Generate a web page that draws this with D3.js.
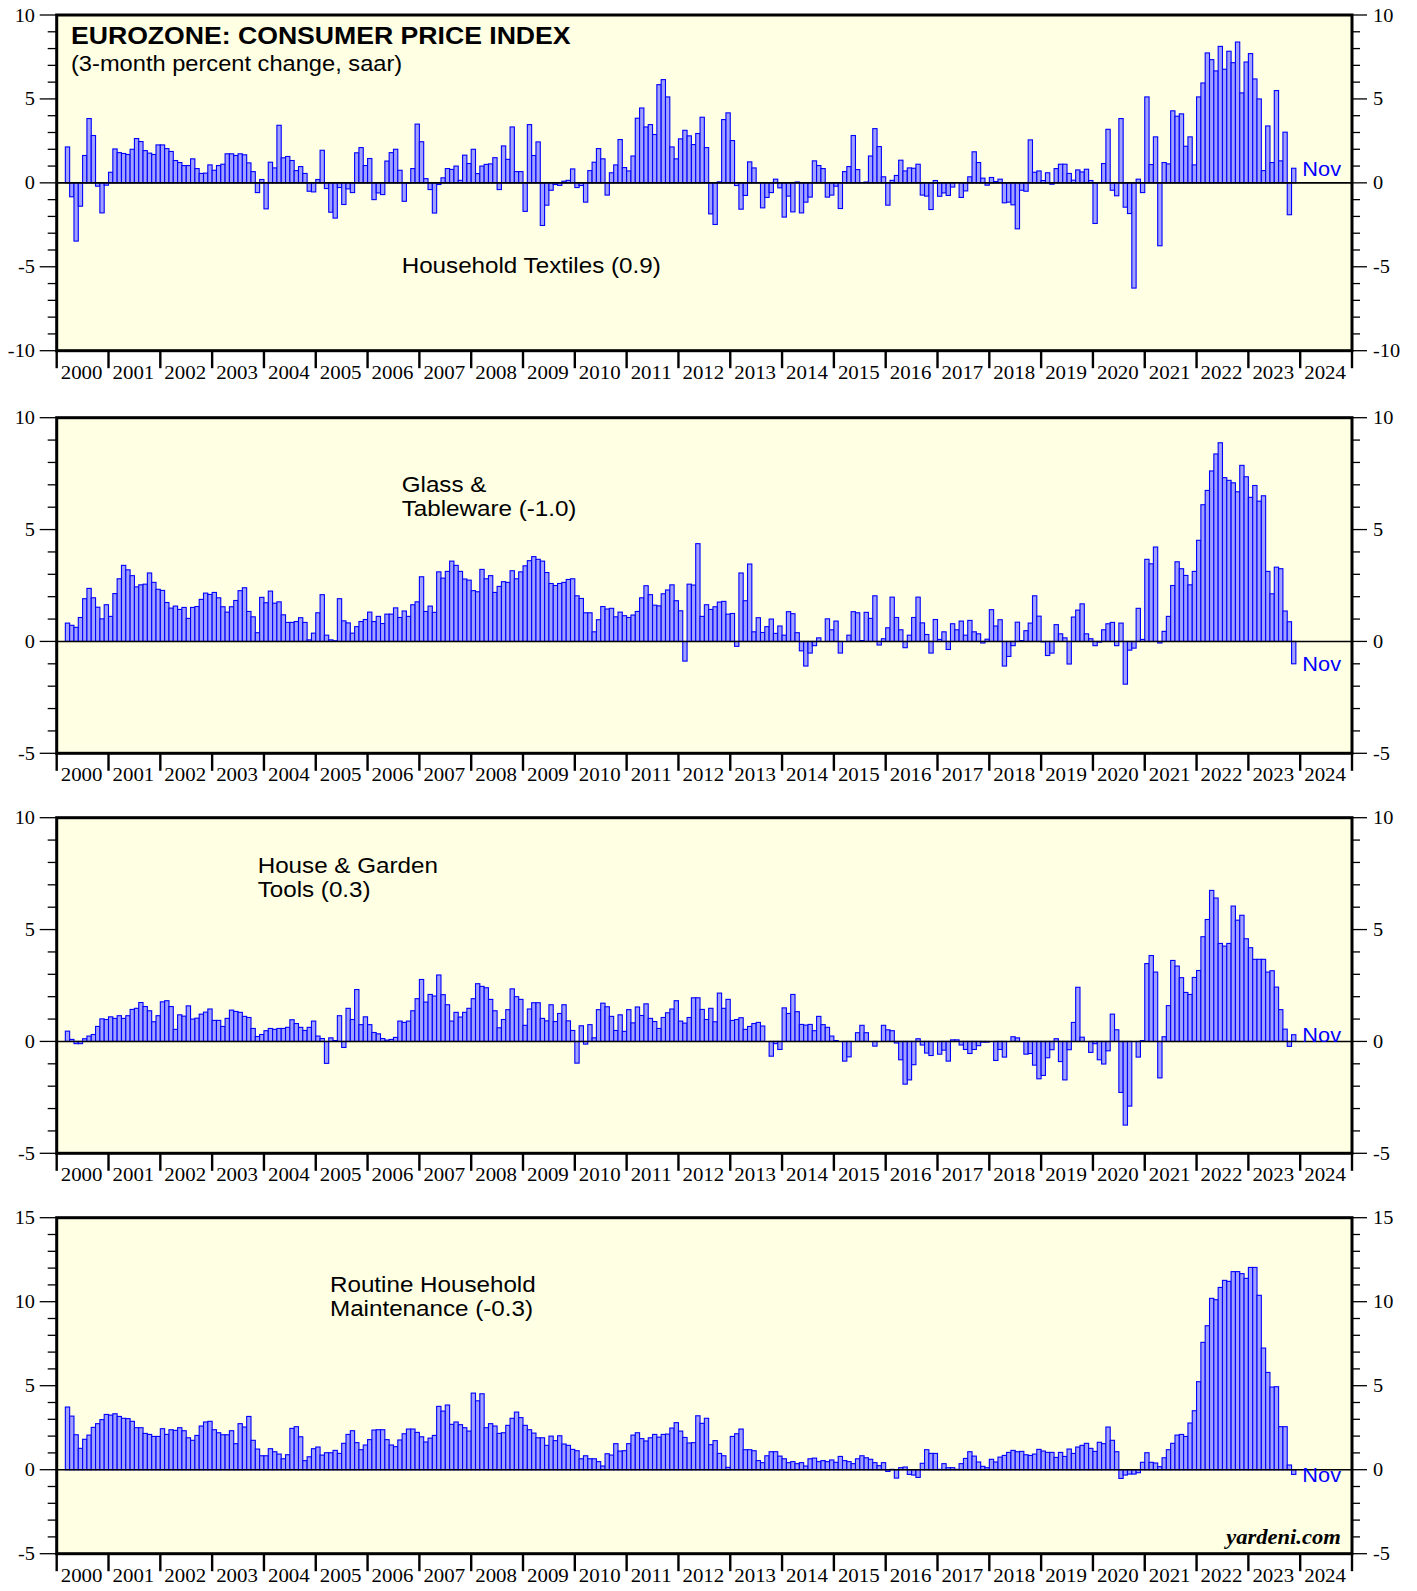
<!DOCTYPE html>
<html><head><meta charset="utf-8">
<script src="https://cdn.jsdelivr.net/npm/d3@7"></script>
<style>body{margin:0;background:#fff;} svg{display:block;}</style>
</head><body>
<svg id="chart" width="1417" height="1591"></svg>
<script>
// ---------- DATA (3-month % change, saar), monthly Mar 2000 .. Nov 2023 ----------
const firstYear = 2000;
const firstMonthOffset = 2;        // data starts in March 2000
const years = d3.range(2000, 2025); // tick labels
const lastMonthLabel = "Nov";

const textiles = [
 2.14,-0.83,-3.47,-1.39,1.63,3.83,2.82,-0.2,-1.79,-0.14,
 0.63,2.02,1.8,1.75,1.69,2.0,2.64,2.46,1.92,1.77,1.69,2.26,
 2.26,2.04,1.87,1.33,1.21,1.03,1.03,1.43,0.85,0.56,0.58,1.07,
 0.75,1.03,1.11,1.73,1.73,1.63,1.73,1.67,1.19,0.67,-0.58,0.2,
 -1.55,1.23,0.89,3.43,1.49,1.57,1.33,0.73,0.97,0.56,-0.5,-0.54,
 0.2,1.94,-0.34,-1.75,-2.1,-0.28,-1.29,-0.36,-0.58,1.79,2.1,1.03,
 1.45,-1.0,-0.6,-0.7,1.3,1.8,2.0,0.75,-1.1,-0.02,0.85,3.5,
 2.45,0.25,-0.4,-1.8,-0.1,0.3,0.85,0.8,1.0,0.15,1.65,1.15,
 2.0,0.55,1.0,1.1,1.13,1.5,-0.4,2.2,1.4,3.33,0.67,0.67,
 -1.7,3.47,1.63,2.44,-2.54,-1.33,-0.44,-0.1,-0.15,0.1,0.15,0.83,
 -0.28,-0.16,-1.15,0.73,1.23,2.04,1.43,-0.73,0.6,1.07,2.58,0.91,
 0.71,1.6,3.85,4.46,3.33,3.47,2.88,5.85,6.15,5.12,2.14,1.43,
 2.62,3.13,2.8,2.28,2.94,3.91,2.1,-1.85,-2.48,0.06,3.77,4.17,
 2.52,-0.16,-1.57,-0.75,1.25,0.89,0.02,-1.49,-0.87,-0.58,0.22,-0.3,
 -2.04,-0.79,-1.73,0.05,-1.79,-1.15,-0.85,1.31,1.03,0.85,-0.85,-0.73,
 -0.2,-1.53,0.67,0.97,2.82,0.79,0.02,0.05,1.6,3.23,2.16,0.36,
 -1.33,0.15,0.44,1.35,0.71,0.89,0.87,1.11,-0.73,-0.79,-1.59,0.14,
 -0.8,-0.6,-0.75,-0.25,0.0,-0.87,-0.48,0.36,1.85,1.21,0.28,-0.14,
 0.32,0.08,0.22,-1.19,-1.15,-1.31,-2.74,-0.44,-0.5,2.56,0.63,0.71,
 0.14,0.6,-0.08,0.85,1.11,1.11,0.56,0.16,0.77,0.65,0.81,0.14,
 -2.42,0.02,1.15,3.19,-0.44,-0.77,3.83,-1.45,-1.83,-6.27,0.22,-0.58,
 5.12,1.09,2.74,-3.75,1.21,1.13,4.29,3.97,4.11,2.18,2.74,1.07,
 5.12,5.95,7.74,7.34,6.67,8.13,6.77,7.84,7.16,8.39,5.36,7.2,
 7.7,6.19,5.0,0.73,3.39,1.21,5.5,1.31,3.02,-1.9,0.87
];

const glassware = [
 0.82,0.72,0.63,1.07,1.91,2.37,1.95,1.53,1.01,1.64,
 1.12,2.14,2.8,3.4,3.2,2.94,2.44,2.53,2.56,3.06,2.64,2.33,
 2.28,1.74,1.49,1.58,1.43,1.52,1.03,1.52,1.56,1.88,2.16,2.1,
 2.19,1.95,1.55,1.31,1.55,1.83,2.27,2.4,1.34,1.1,0.39,1.97,
 1.73,2.25,1.71,1.77,1.19,0.85,0.85,0.89,1.06,0.85,0.07,0.37,
 1.28,2.09,0.28,0.07,0.03,1.91,0.92,0.83,0.37,0.66,0.89,0.98,
 1.31,0.89,1.12,0.8,1.22,1.22,1.5,1.07,1.36,1.12,1.64,1.77,
 2.89,1.34,1.58,1.3,3.11,2.83,3.13,3.59,3.4,3.13,2.79,2.74,
 2.27,2.22,3.22,2.8,2.94,2.19,2.46,2.67,2.64,3.16,2.8,3.11,
 3.38,3.61,3.79,3.67,3.59,3.08,2.59,2.5,2.59,2.64,2.77,2.8,
 2.04,1.92,1.28,1.28,0.43,0.97,1.56,1.45,1.48,1.1,1.31,1.15,
 1.07,1.18,1.34,1.95,2.49,2.09,1.62,1.59,2.13,2.3,2.53,1.82,
 1.37,-0.88,2.56,2.52,4.37,1.12,1.64,1.43,1.55,1.76,1.79,1.22,
 1.25,-0.22,3.06,1.82,3.46,0.43,1.06,0.4,0.66,1.0,0.36,0.69,
 0.28,1.33,1.24,0.39,-0.42,-1.1,-0.52,-0.19,0.16,0.0,1.01,0.52,
 0.91,-0.52,0.0,0.28,1.33,1.28,0.04,1.3,1.03,2.04,-0.16,0.12,
 0.61,1.98,1.07,0.52,-0.28,0.28,1.07,1.98,0.83,0.31,-0.52,0.98,
 0.09,0.43,-0.36,0.79,0.52,0.91,0.28,0.94,0.43,0.34,-0.07,0.1,
 1.42,0.69,0.97,-1.1,-0.67,-0.19,0.86,0.04,0.48,0.82,2.04,1.13,
 -0.02,-0.63,-0.52,0.75,0.34,0.16,-1.01,1.09,1.4,1.68,0.34,0.12,
 -0.19,-0.03,0.52,0.79,0.85,-0.19,0.82,-1.91,-0.39,-0.3,1.48,0.09,
 3.67,3.47,4.22,-0.07,0.45,1.12,2.5,3.56,3.25,2.95,2.53,3.13,
 4.52,6.11,6.75,7.62,8.38,8.88,7.32,7.2,7.09,6.69,7.87,7.36,
 6.44,6.97,6.27,6.51,3.13,2.13,3.32,3.25,1.36,0.88,-1.0
];

const gardenTools = [
 0.46,0.09,-0.1,-0.1,0.12,0.24,0.31,0.67,1.01,0.98,
 1.1,1.03,1.15,1.03,1.15,1.43,1.48,1.74,1.56,1.37,0.88,1.15,
 1.77,1.82,1.56,0.54,1.19,1.13,1.59,1.0,1.04,1.22,1.31,1.45,
 0.94,0.94,0.67,1.03,1.4,1.34,1.3,1.12,1.07,0.58,0.22,0.31,
 0.48,0.58,0.54,0.58,0.58,0.63,0.97,0.8,0.63,0.49,0.63,0.91,
 0.24,0.13,-0.98,0.16,0.04,1.15,-0.27,1.48,0.98,2.32,0.75,1.1,
 0.75,0.4,0.34,0.13,0.06,0.09,0.18,0.91,0.85,0.91,1.37,1.91,
 2.77,1.76,2.1,2.03,2.97,2.09,1.64,0.91,1.3,1.09,1.3,1.48,
 1.91,2.58,2.46,2.4,1.88,1.37,0.61,0.98,1.42,2.35,2.0,1.88,
 0.72,1.45,1.73,1.73,1.03,0.92,1.64,0.89,1.25,1.64,0.92,0.49,
 -0.97,0.7,-0.12,0.75,0.16,1.42,1.71,1.55,1.12,0.49,1.19,0.45,
 1.42,0.83,1.54,1.16,1.68,1.03,0.89,0.58,1.07,1.28,1.45,1.82,
 0.91,0.82,1.07,1.95,1.95,1.43,0.98,1.48,0.88,2.16,1.48,1.88,
 0.94,0.98,1.06,0.54,0.67,0.8,0.85,0.69,0.0,-0.66,-0.1,-0.36,
 1.5,1.25,2.1,1.33,0.76,0.73,0.76,0.48,1.12,0.75,0.63,0.24,
 0.04,0.0,-0.88,-0.69,0.0,0.39,0.72,0.39,0.0,-0.21,0.0,0.72,
 0.52,0.48,-0.07,-0.82,-1.91,-1.72,-1.04,0.12,-0.16,-0.52,-0.63,0.0,
 -0.57,-0.39,-0.88,0.07,0.07,-0.16,-0.36,-0.54,-0.36,-0.19,-0.03,-0.03,
 0.0,-0.85,-0.36,-0.7,0.0,0.21,0.16,0.0,-0.57,-0.54,-1.06,-1.67,
 -1.52,-0.73,-0.37,0.12,-0.9,-1.72,-0.37,0.85,2.42,0.19,0.0,-0.49,
 -0.1,-0.82,-1.01,-0.42,1.22,0.52,-2.28,-3.74,-2.89,0.0,-0.7,0.04,
 3.48,3.84,3.1,-1.63,0.21,1.6,3.62,3.37,2.85,2.19,2.1,2.86,
 3.17,4.68,5.45,6.75,6.41,4.38,4.26,4.38,6.05,5.42,5.64,4.59,
 4.19,3.67,3.67,3.67,3.1,3.16,2.43,1.42,0.55,-0.22,0.3
];

const maintenance = [
 3.73,3.19,2.08,1.27,1.81,2.06,2.52,2.74,2.98,3.29,
 3.25,3.33,3.17,3.06,3.04,2.88,2.5,2.5,2.16,2.1,1.98,1.98,
 2.44,2.1,2.38,2.34,2.5,2.32,1.9,1.75,2.04,2.6,2.84,2.88,
 2.38,2.2,2.08,2.08,2.32,1.55,2.74,2.54,3.17,1.75,1.23,0.83,
 0.83,1.25,1.07,0.93,0.65,0.89,2.46,2.56,1.96,0.54,0.77,1.25,
 1.35,0.87,1.01,1.01,1.15,0.97,1.57,2.1,2.32,1.61,1.19,1.47,
 1.79,2.36,2.38,2.38,1.79,1.47,1.37,1.77,2.14,2.42,2.42,2.22,
 1.96,1.65,1.88,2.04,3.77,3.49,3.85,2.7,2.84,2.68,2.5,2.3,
 4.56,4.1,4.52,2.5,2.74,2.6,2.16,2.2,2.64,3.06,3.43,3.1,
 2.64,2.38,2.18,1.9,1.9,1.45,2.0,1.73,2.02,1.53,1.45,1.21,
 1.13,0.65,0.83,0.65,0.65,0.48,0.22,0.95,0.87,1.55,1.11,1.13,
 1.55,2.06,2.2,1.85,1.71,1.9,2.1,1.94,2.1,2.12,2.48,2.8,
 2.3,1.92,1.59,1.61,3.21,2.76,3.06,1.49,1.73,0.97,0.83,0.14,
 1.98,2.14,2.42,1.19,1.19,1.13,0.54,0.42,0.83,1.07,1.07,0.81,
 0.65,0.42,0.48,0.36,0.42,0.22,0.65,0.69,0.48,0.54,0.48,0.58,
 0.44,0.79,0.54,0.48,0.36,0.65,0.83,0.71,0.62,0.42,0.24,0.42,
 -0.1,0.02,-0.5,0.12,0.16,-0.28,-0.32,-0.46,0.38,1.19,0.97,0.97,
 0.02,0.36,0.12,0.12,0.02,0.36,0.67,1.07,0.81,0.46,0.2,0.12,
 0.62,0.46,0.75,0.85,1.03,1.15,1.07,1.09,0.89,0.85,0.93,1.21,
 1.11,1.03,1.03,0.73,1.03,0.79,1.23,0.97,1.35,1.45,1.57,1.27,
 1.09,1.63,1.55,2.54,1.75,1.07,-0.52,-0.32,-0.26,-0.26,-0.18,0.44,
 1.01,0.44,0.4,0.18,0.71,1.19,1.57,2.06,2.1,1.98,2.78,3.51,
 5.24,7.58,8.57,10.2,10.12,10.85,11.27,11.21,11.79,11.79,11.67,11.39,
 12.04,12.04,10.38,7.24,5.79,4.92,4.94,2.56,2.56,0.28,-0.28
];

const chartTitle = "EUROZONE: CONSUMER PRICE INDEX";
const chartSubtitle = "(3-month percent change, saar)";
const textilesLabel = ["Household Textiles (0.9)"];
const glasswareLabel = ["Glass &", "Tableware (-1.0)"];
const gardenToolsLabel = ["House & Garden", "Tools (0.3)"];
const maintenanceLabel = ["Routine Household", "Maintenance (-0.3)"];
const sourceText = "yardeni.com";

// ---------- LAYOUT ----------
const SX = 1.1;   // horizontal text stretch seen in the reference
const X0 = 56.7, X1 = 1352;
const svg = d3.select("#chart");
const x = d3.scaleLinear().domain([0, years.length * 12]).range([X0, X1]);

const panels = [
  {values: textiles, top: 15, bottom: 350.7, domain: [-10, 10], label: textilesLabel, lx: 401.7, ly: 272.7},
  {values: glassware, top: 417.7, bottom: 753.3, domain: [-5, 10], label: glasswareLabel, lx: 401.7, ly: 492.3},
  {values: gardenTools, top: 817.7, bottom: 1153.3, domain: [-5, 10], label: gardenToolsLabel, lx: 257.7, ly: 873.3},
  {values: maintenance, top: 1217.7, bottom: 1553.7, domain: [-5, 15], label: maintenanceLabel, lx: 330, ly: 1292.3}
];

function stext(parent, px, py, str, size, o = {}) {
  return parent.append("text")
    .attr("transform", `translate(${px},${py}) scale(${o.sx || SX},1)`)
    .attr("font-family", o.family || "'Liberation Sans', Arial, sans-serif")
    .attr("font-size", size)
    .attr("font-weight", o.weight || "normal")
    .attr("font-style", o.style || "normal")
    .attr("text-anchor", o.anchor || "start")
    .attr("fill", o.fill || "#000")
    .text(str);
}

const serif = "'Liberation Serif', 'Times New Roman', serif";

panels.forEach((p, pi) => {
  const y = d3.scaleLinear().domain(p.domain).range([p.bottom, p.top]);
  const g = svg.append("g");

  g.append("rect").attr("x", X0).attr("y", p.top)
    .attr("width", X1 - X0).attr("height", p.bottom - p.top)
    .attr("fill", "#ffffe3");

  const data = p.values.map((v, i) => ({m: firstMonthOffset + i, v}));
  const bw = x(1) - x(0);
  g.append("g").selectAll("rect").data(data).join("rect")
    .attr("x", d => x(d.m))
    .attr("width", bw)
    .attr("y", d => y(Math.max(0, d.v)))
    .attr("height", d => Math.abs(y(d.v) - y(0)))
    .attr("fill", "#a0a0ff")
    .attr("stroke", "#0000ff")
    .attr("stroke-width", 1.1);

  // zero line
  g.append("line").attr("x1", X0).attr("x2", X1).attr("y1", y(0)).attr("y2", y(0))
    .attr("stroke", "#000").attr("stroke-width", 1.6);

  // frame
  g.append("rect").attr("x", X0).attr("y", p.top)
    .attr("width", X1 - X0).attr("height", p.bottom - p.top)
    .attr("fill", "none").attr("stroke", "#000").attr("stroke-width", 3);

  // y ticks both sides
  const ticks = d3.range(p.domain[0], p.domain[1] + 1);
  ticks.forEach(t => {
    const major = t % 5 === 0;
    g.append("line").attr("x1", X0 - (major ? 17 : 9)).attr("x2", X0)
      .attr("y1", y(t)).attr("y2", y(t)).attr("stroke", "#000").attr("stroke-width", 1.3);
    g.append("line").attr("x1", X1).attr("x2", X1 + (major ? 15 : 8))
      .attr("y1", y(t)).attr("y2", y(t)).attr("stroke", "#000").attr("stroke-width", 1.3);
    if (major) {
      stext(g, 35, y(t) + 6.5, String(t), 18.5, {family: serif, anchor: "end"});
      stext(g, 1373, y(t) + 6.5, String(t), 18.5, {family: serif});
    }
  });

  // year ticks and labels
  years.concat([years[years.length - 1] + 1]).forEach((yr, k) => {
    const xx = x(k * 12);
    g.append("line").attr("x1", xx).attr("x2", xx).attr("y1", p.bottom).attr("y2", p.bottom + 17.5)
      .attr("stroke", "#000").attr("stroke-width", 2.4);
  });
  years.forEach((yr, k) => {
    stext(g, x(k * 12) + 4, p.bottom + 28, String(yr), 19, {family: serif});
  });

  // series label
  p.label.forEach((line, li) => {
    stext(g, p.lx, p.ly + li * 23.8, line, 22);
  });

  // last-month label
  const last = data[data.length - 1];
  stext(g, x(last.m + 1) + 6.5, y(last.v) + 7.5, lastMonthLabel, 20.5, {fill: "#0000ff", sx: 1.06});
});

// titles
stext(svg, 71, 44, chartTitle, 24.2, {weight: "bold"});
stext(svg, 71, 70.5, chartSubtitle, 21.5);
stext(svg, 1340.7, 1544, sourceText, 20.5, {family: serif, weight: "bold", style: "italic", anchor: "end"});
</script>
</body></html>
